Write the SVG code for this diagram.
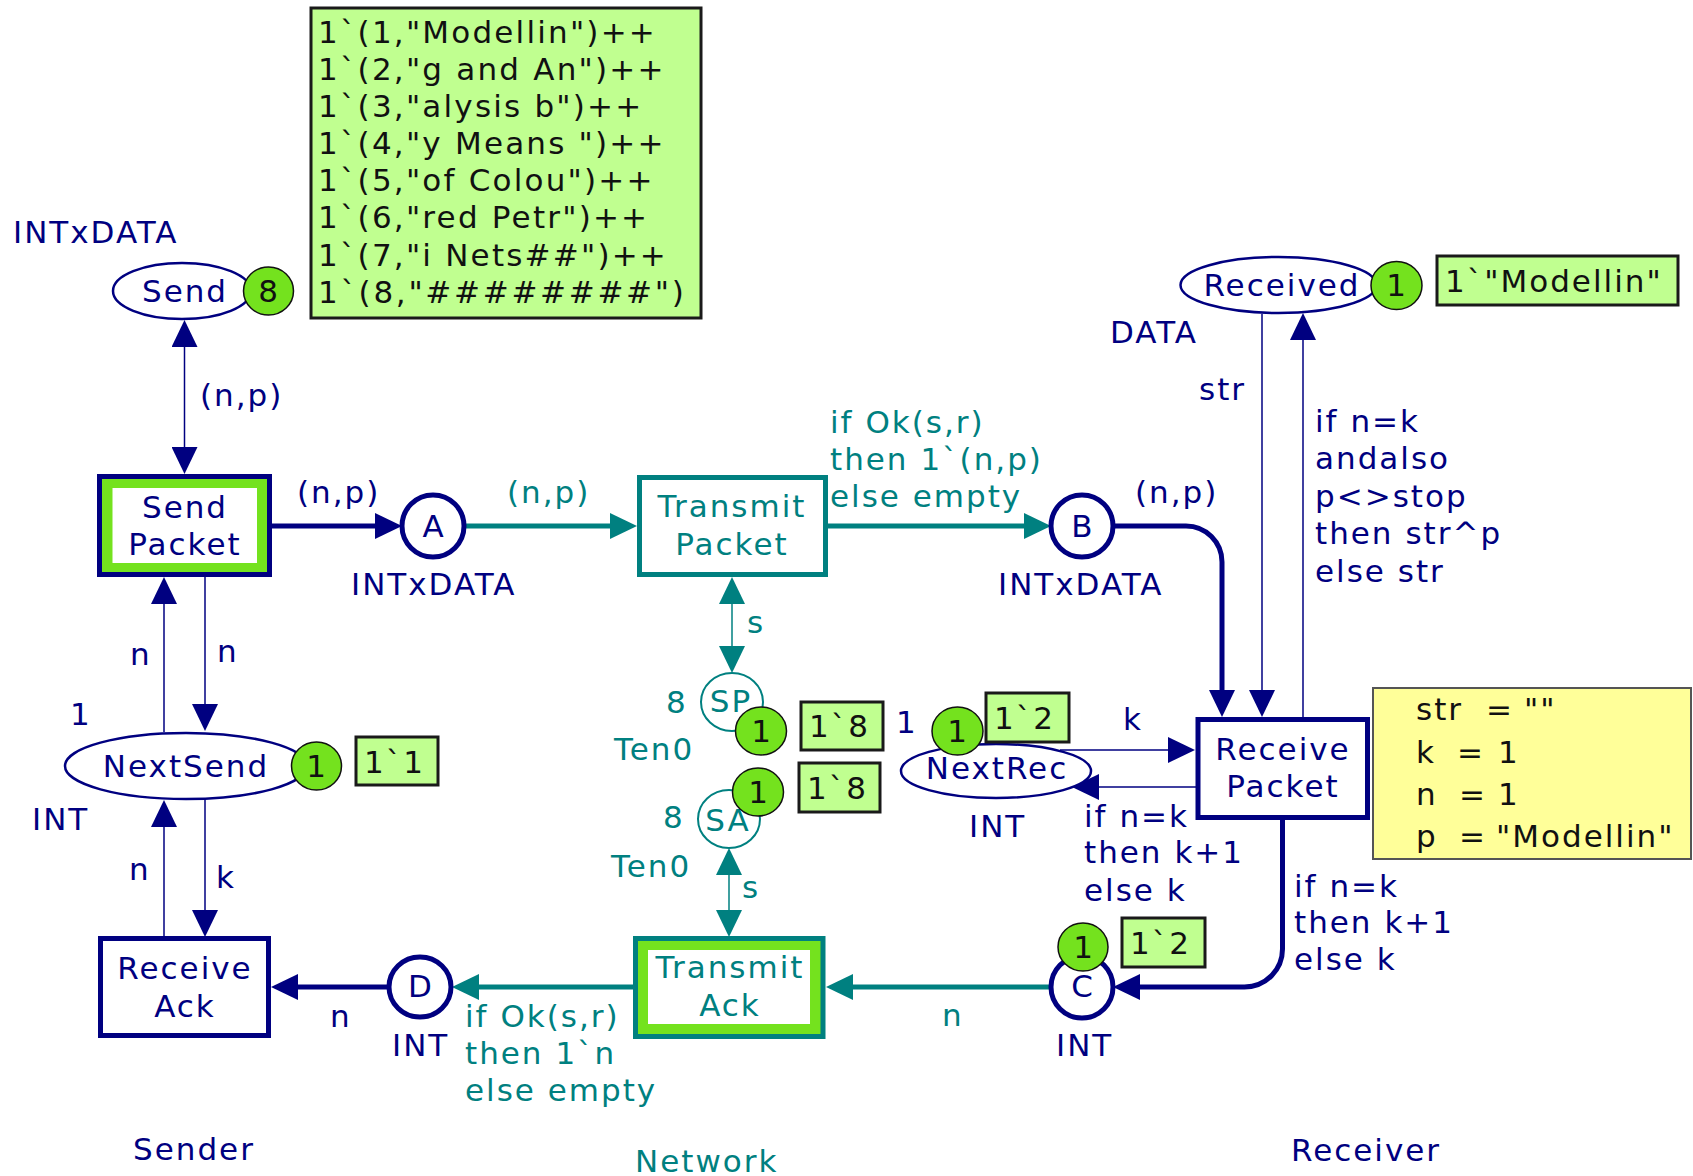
<svg xmlns="http://www.w3.org/2000/svg" width="1693" height="1176" viewBox="0 0 1693 1176">
  <style>
    text { font-family: "DejaVu Sans", "Verdana", sans-serif; font-size: 31px; letter-spacing: 2px; }
    .n { fill: #000080; }
    .t { fill: #008080; }
    .k { fill: #111111; }
    .c { text-anchor: middle; }
    .place { fill: #ffffff; stroke: #000080; stroke-width: 2.5; }
    .placeB { fill: #ffffff; stroke: #000080; stroke-width: 5; }
    .placeT { fill: #ffffff; stroke: #008080; stroke-width: 2; }
    .trN { fill: #ffffff; stroke: #000080; stroke-width: 5; }
    .trT { fill: #ffffff; stroke: #008080; stroke-width: 5; }
    .token { fill: #74e21e; stroke: #111111; stroke-width: 1.5; }
    .mark { fill: #c0ff90; stroke: #1a1a1a; stroke-width: 3; }
    .thickN { fill: none; stroke: #000080; stroke-width: 5; marker-end: url(#an); }
    .thickT { fill: none; stroke: #008080; stroke-width: 5; marker-end: url(#at); }
    .thinN { fill: none; stroke: #000080; stroke-width: 1.5; marker-end: url(#an); }
    .thinT { fill: none; stroke: #008080; stroke-width: 1.5; marker-end: url(#at); }
    .both { marker-start: url(#an); }
    .bothT { marker-start: url(#at); }
  </style>
  <defs>
    <marker id="an" viewBox="0 0 27 26" refX="0" refY="13" markerWidth="27" markerHeight="26" markerUnits="userSpaceOnUse" orient="auto-start-reverse">
      <path d="M0,0 L27,13 L0,26 Z" fill="#000080"/>
    </marker>
    <marker id="at" viewBox="0 0 27 26" refX="0" refY="13" markerWidth="27" markerHeight="26" markerUnits="userSpaceOnUse" orient="auto-start-reverse">
      <path d="M0,0 L27,13 L0,26 Z" fill="#008080"/>
    </marker>
  </defs>

  <rect width="1693" height="1176" fill="#ffffff"/>

  <!-- connectors -->
  <g id="arcs">
    <!-- Sender side -->
    <path class="thinN both" d="M184.5,347 V447"/>
    <path class="thickN" d="M272,526 H375"/>
    <path class="thinN" d="M164,732 V604"/>
    <path class="thinN" d="M205,577 V704"/>
    <path class="thinN" d="M205,800 V910"/>
    <path class="thinN" d="M164,937 V827"/>
    <path class="thickN" d="M389,987 H298"/>
    <!-- Network -->
    <path class="thickT" d="M464,526 H610"/>
    <path class="thickT" d="M828,526 H1024"/>
    <path class="thinT bothT" d="M732,604 V646"/>
    <path class="thinT bothT" d="M729,875 V910"/>
    <path class="thickT" d="M1051,987 H853"/>
    <path class="thickT" d="M633,987 H479"/>
    <!-- Receiver side -->
    <path class="thickN" d="M1113,526 H1186 A36,36 0 0 1 1222,562 V690"/>
    <path class="thinN" d="M1262,314 V690"/>
    <path class="thinN" d="M1303,717 V340"/>
    <path class="thinN" d="M1060,750 H1168"/>
    <path class="thinN" d="M1196,787 H1099"/>
    <path class="thickN" d="M1282.5,820 V949 A38,38 0 0 1 1244.5,987 H1140"/>
  </g>

  <!-- arc inscriptions -->
  <g id="arc-labels">
    <text class="n" x="200" y="406">(n,p)</text>
    <text class="n" x="297" y="503">(n,p)</text>
    <text class="n" x="130" y="665">n</text>
    <text class="n" x="217" y="662">n</text>
    <text class="n" x="129" y="880">n</text>
    <text class="n" x="216" y="888">k</text>
    <text class="n" x="330" y="1027">n</text>
    <text class="t" x="507" y="503">(n,p)</text>
    <text class="t" x="830" y="433">if Ok(s,r)</text>
    <text class="t" x="830" y="470">then 1`(n,p)</text>
    <text class="t" x="830" y="507">else empty</text>
    <text class="t" x="747" y="633">s</text>
    <text class="t" x="742" y="898">s</text>
    <text class="t" x="942" y="1026">n</text>
    <text class="t" x="465" y="1027">if Ok(s,r)</text>
    <text class="t" x="465" y="1064">then 1`n</text>
    <text class="t" x="465" y="1101">else empty</text>
    <text class="n" x="1135" y="503">(n,p)</text>
    <text class="n" x="1199" y="400">str</text>
    <text class="n" x="1315" y="432">if n=k</text>
    <text class="n" x="1315" y="469">andalso</text>
    <text class="n" x="1315" y="507">p&lt;&gt;stop</text>
    <text class="n" x="1315" y="544">then str^p</text>
    <text class="n" x="1315" y="582">else str</text>
    <text class="n" x="1123" y="730">k</text>
    <text class="n" x="1084" y="827">if n=k</text>
    <text class="n" x="1084" y="863">then k+1</text>
    <text class="n" x="1084" y="901">else k</text>
    <text class="n" x="1294" y="897">if n=k</text>
    <text class="n" x="1294" y="933">then k+1</text>
    <text class="n" x="1294" y="970">else k</text>
  </g>

  <!-- places -->
  <g id="place-Send">
    <text class="n" x="13" y="243">INTxDATA</text>
    <ellipse class="place" cx="182" cy="291" rx="69" ry="28"/>
    <text class="n c" x="185" y="302">Send</text>
    <ellipse class="token" cx="268.5" cy="291" rx="25" ry="24"/>
    <text class="k c" x="269" y="302">8</text>
    <rect class="mark" x="311" y="8" width="390" height="310"/>
    <text class="k" x="318" y="43" style="letter-spacing:2.2px">1`(1,"Modellin")++</text>
    <text class="k" x="318" y="80" style="letter-spacing:2.2px">1`(2,"g and An")++</text>
    <text class="k" x="318" y="117" style="letter-spacing:2.2px">1`(3,"alysis b")++</text>
    <text class="k" x="318" y="154" style="letter-spacing:2.2px">1`(4,"y Means ")++</text>
    <text class="k" x="318" y="191" style="letter-spacing:2.2px">1`(5,"of Colou")++</text>
    <text class="k" x="318" y="228" style="letter-spacing:2.2px">1`(6,"red Petr")++</text>
    <text class="k" x="318" y="266" style="letter-spacing:2.2px">1`(7,"i Nets##")++</text>
    <text class="k" x="318" y="303" style="letter-spacing:2.7px">1`(8,"########")</text>
  </g>

  <g id="place-NextSend">
    <text class="n" x="70" y="725">1</text>
    <ellipse class="place" cx="186" cy="766" rx="121" ry="33"/>
    <text class="n c" x="186" y="777">NextSend</text>
    <ellipse class="token" cx="316.5" cy="766" rx="25" ry="24"/>
    <text class="k c" x="317" y="777">1</text>
    <rect class="mark" x="356" y="737" width="82" height="48"/>
    <text class="k" x="364" y="773">1`1</text>
    <text class="n" x="32" y="830">INT</text>
  </g>

  <g id="place-A">
    <circle class="placeB" cx="433" cy="526" r="31"/>
    <text class="n c" x="434" y="537">A</text>
    <text class="n" x="351" y="595">INTxDATA</text>
  </g>

  <g id="place-B">
    <circle class="placeB" cx="1082" cy="526" r="31"/>
    <text class="n c" x="1083" y="537">B</text>
    <text class="n" x="998" y="595">INTxDATA</text>
  </g>

  <g id="place-C">
    <circle class="placeB" cx="1082" cy="987" r="31"/>
    <text class="n c" x="1083" y="997">C</text>
    <ellipse class="token" cx="1083" cy="947" rx="25" ry="24"/>
    <text class="k c" x="1084" y="958">1</text>
    <rect class="mark" x="1122" y="918" width="83" height="49"/>
    <text class="k" x="1130" y="954">1`2</text>
    <text class="n" x="1056" y="1056">INT</text>
  </g>

  <g id="place-D">
    <ellipse class="placeB" cx="420" cy="987" rx="31" ry="30"/>
    <text class="n c" x="421" y="997">D</text>
    <text class="n" x="392" y="1056">INT</text>
  </g>

  <g id="place-SP">
    <text class="t" x="666" y="713">8</text>
    <ellipse class="placeT" cx="732" cy="702" rx="31" ry="29"/>
    <text class="t c" x="731" y="712">SP</text>
    <text class="t" x="614" y="760">Ten0</text>
    <ellipse class="token" cx="761" cy="731" rx="25.5" ry="24"/>
    <text class="k c" x="762" y="742">1</text>
    <rect class="mark" x="801" y="702" width="82" height="48"/>
    <text class="k" x="809" y="737">1`8</text>
  </g>

  <g id="place-SA">
    <text class="t" x="663" y="828">8</text>
    <ellipse class="placeT" cx="729" cy="819" rx="31" ry="29"/>
    <text class="t c" x="728" y="831">SA</text>
    <text class="t" x="611" y="877">Ten0</text>
    <ellipse class="token" cx="758" cy="792" rx="25.5" ry="24"/>
    <text class="k c" x="759" y="803">1</text>
    <rect class="mark" x="799" y="763" width="81" height="49"/>
    <text class="k" x="807" y="799">1`8</text>
  </g>

  <g id="place-NextRec">
    <text class="n" x="896" y="733">1</text>
    <ellipse class="place" cx="996" cy="771" rx="95" ry="27"/>
    <text class="n c" x="997" y="779">NextRec</text>
    <ellipse class="token" cx="957.5" cy="731" rx="25.5" ry="24"/>
    <text class="k c" x="958" y="742">1</text>
    <rect class="mark" x="986" y="693" width="83" height="49"/>
    <text class="k" x="994" y="729">1`2</text>
    <text class="n" x="969" y="837">INT</text>
  </g>

  <g id="place-Received">
    <ellipse class="place" cx="1278.5" cy="285" rx="98" ry="28"/>
    <text class="n c" x="1282" y="296">Received</text>
    <ellipse class="token" cx="1396.5" cy="285.5" rx="25.5" ry="24"/>
    <text class="k c" x="1397" y="296">1</text>
    <rect class="mark" x="1437" y="256" width="241" height="49"/>
    <text class="k" x="1445" y="292">1`"Modellin"</text>
    <text class="n" x="1110" y="343">DATA</text>
  </g>

  <!-- transitions -->
  <g id="trans-SendPacket">
    <rect x="99.5" y="476.5" width="170" height="98" fill="#74e21e" stroke="#000080" stroke-width="5"/>
    <rect x="112.5" y="488" width="144.5" height="75" fill="#ffffff"/>
    <text class="n c" x="185" y="518">Send</text>
    <text class="n c" x="185" y="555">Packet</text>
  </g>

  <g id="trans-ReceiveAck">
    <rect class="trN" x="100.5" y="938.5" width="168" height="97"/>
    <text class="n c" x="185" y="979">Receive</text>
    <text class="n c" x="185" y="1017">Ack</text>
  </g>

  <g id="trans-TransmitPacket">
    <rect class="trT" x="639.5" y="477.5" width="186" height="97"/>
    <text class="t c" x="732" y="517">Transmit</text>
    <text class="t c" x="732" y="555">Packet</text>
  </g>

  <g id="trans-TransmitAck">
    <rect x="635.5" y="938.5" width="187.5" height="98" fill="#74e21e" stroke="#008080" stroke-width="5"/>
    <rect x="648" y="950" width="162" height="74" fill="#ffffff"/>
    <text class="t c" x="730" y="978">Transmit</text>
    <text class="t c" x="730" y="1016">Ack</text>
  </g>

  <g id="trans-ReceivePacket">
    <rect class="trN" x="1198" y="719.5" width="169.5" height="98"/>
    <text class="n c" x="1283" y="760">Receive</text>
    <text class="n c" x="1283" y="797">Packet</text>
    <rect x="1373" y="688" width="318" height="171" fill="#ffff99" stroke="#555555" stroke-width="2"/>
    <text class="k" x="1416" y="720">str</text>
    <text class="k" x="1486" y="720">=</text>
    <text class="k" x="1524" y="720">""</text>
    <text class="k" x="1416" y="763">k</text>
    <text class="k" x="1457" y="763">=</text>
    <text class="k" x="1498" y="763">1</text>
    <text class="k" x="1416" y="805">n</text>
    <text class="k" x="1459" y="805">=</text>
    <text class="k" x="1498" y="805">1</text>
    <text class="k" x="1416" y="847">p</text>
    <text class="k" x="1459" y="847">=</text>
    <text class="k" x="1496" y="847">"Modellin"</text>
  </g>

  <!-- module names -->
  <g id="sections">
    <text class="n" x="133" y="1160">Sender</text>
    <text class="t" x="635" y="1172">Network</text>
    <text class="n" x="1291" y="1161">Receiver</text>
  </g>
</svg>
